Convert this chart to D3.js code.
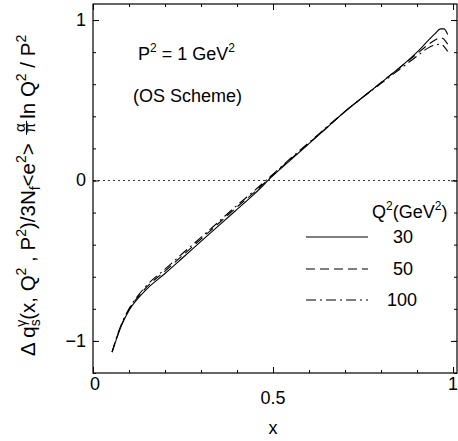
<!DOCTYPE html>
<html><head><meta charset="utf-8">
<script src="https://cdn.jsdelivr.net/npm/d3@7"></script>
<style>body{margin:0;background:#fff}svg{display:block}text{font-family:"Liberation Sans",Arial,sans-serif;fill:#000}</style>
</head><body><svg id="c" width="458" height="441"></svg>
<script>
const xs = [0.053,0.065,0.08,0.1,0.125,0.15,0.2,0.25,0.3,0.35,0.4,0.45,0.5,0.55,0.6,0.65,0.7,0.75,0.8,0.85,0.9,0.93,0.95,0.965,0.975,0.985];
const q30  = [-1.07,-0.99,-0.90,-0.81,-0.735,-0.675,-0.58,-0.48,-0.38,-0.28,-0.18,-0.08,0.03,0.13,0.23,0.33,0.43,0.52,0.61,0.70,0.80,0.87,0.915,0.945,0.945,0.91];
const q50  = [-1.07,-0.985,-0.895,-0.805,-0.725,-0.662,-0.565,-0.465,-0.365,-0.265,-0.165,-0.07,0.035,0.135,0.233,0.33,0.43,0.52,0.61,0.70,0.79,0.845,0.875,0.89,0.88,0.85];
const q100 = [-1.07,-0.98,-0.89,-0.80,-0.718,-0.652,-0.553,-0.452,-0.355,-0.255,-0.155,-0.06,0.04,0.14,0.237,0.335,0.43,0.52,0.605,0.69,0.775,0.825,0.845,0.85,0.835,0.805];
const seriesNames = ["30","50","100"];
const xTicks = [0,0.5,1];
const yTicks = [-1,0,1];

const svg = d3.select("#c");
const L=93,R=457,T=4,B=373;
const x = d3.scaleLinear().domain([0,1.011]).range([L,R]);
const y = d3.scaleLinear().domain([-1.2,1.1]).range([B,T]);
const styles = [null,"9,5","10,4,2,4"];
const all = [q30,q50,q100];

svg.append("rect").attr("x",L).attr("y",T).attr("width",R-L).attr("height",B-T).attr("fill","none").attr("stroke","#000").attr("stroke-width",1.2);
svg.append("line").attr("x1",L).attr("x2",R).attr("y1",y(0)).attr("y2",y(0)).attr("stroke","#333").attr("stroke-width",1).attr("stroke-dasharray","2,3");

const minorX = d3.range(0,1.0001,0.1), minorY = d3.range(-1.2,1.1001,0.2);
function ax(gen, tr, vals, size){
  const g = svg.append("g").attr("transform",tr).call(gen.tickValues(vals).tickSize(size).tickFormat(""));
  g.select(".domain").remove(); g.selectAll("line").attr("stroke","#000").attr("stroke-width",1);
}
ax(d3.axisBottom(x),`translate(0,${B})`,minorX,-3);
ax(d3.axisBottom(x),`translate(0,${B})`,xTicks,-6);
ax(d3.axisTop(x),`translate(0,${T})`,minorX,-3);
ax(d3.axisTop(x),`translate(0,${T})`,xTicks,-6);
ax(d3.axisLeft(y),`translate(${L},0)`,minorY,-3);
ax(d3.axisLeft(y),`translate(${L},0)`,yTicks,-6);
ax(d3.axisRight(y),`translate(${R},0)`,minorY,-3);
ax(d3.axisRight(y),`translate(${R},0)`,yTicks,-6);

const fs=18;
xTicks.forEach(v=>{
  svg.append("text").attr("x",x(v)+(v===0?2:0)).attr("y",v===0.5?404:390).attr("text-anchor","middle").attr("font-size",fs).text(String(v));
});
yTicks.forEach(v=>{
  svg.append("text").attr("x",86).attr("y",y(v)+6).attr("text-anchor","end").attr("font-size",fs).text(v<0?"\u2212"+Math.abs(v):String(v));
});
svg.append("text").attr("x",273).attr("y",434).attr("text-anchor","middle").attr("font-size",fs).text("x");

const line = d3.line().x(d=>x(d[0])).y(d=>y(d[1])).curve(d3.curveMonotoneX);
all.forEach((s,i)=>{
  svg.append("path").datum(xs.map((v,j)=>[v,s[j]])).attr("d",line).attr("fill","none").attr("stroke","#000").attr("stroke-width",1.1).attr("stroke-dasharray",styles[i]);
});

const t1 = svg.append("text").attr("x",138).attr("y",60).attr("font-size",fs);
t1.append("tspan").text("P");
t1.append("tspan").attr("font-size",12).attr("dy",-8).text("2");
t1.append("tspan").attr("dy",8).text(" = 1 GeV");
t1.append("tspan").attr("font-size",12).attr("dy",-8).text("2");
svg.append("text").attr("x",133).attr("y",102).attr("font-size",fs).text("(OS Scheme)");

const lt = svg.append("text").attr("x",372).attr("y",218).attr("font-size",fs);
lt.append("tspan").text("Q");
lt.append("tspan").attr("font-size",12).attr("dy",-8).text("2");
lt.append("tspan").attr("dy",8).text("(GeV");
lt.append("tspan").attr("font-size",12).attr("dy",-8).text("2");
lt.append("tspan").attr("dy",8).text(")");
const ly=[237,269,300];
seriesNames.forEach((n,i)=>{
  svg.append("line").attr("x1",306).attr("x2",368).attr("y1",ly[i]).attr("y2",ly[i]).attr("stroke","#000").attr("stroke-width",1.1).attr("stroke-dasharray",styles[i]);
  svg.append("text").attr("x",i===2?387:393).attr("y",ly[i]+6).attr("font-size",fs).text(n);
});

// y label (rotated)
const FS=20.5, SS=14;
const g = svg.append("g").attr("transform","translate(35,356) rotate(-90)");
const p1 = g.append("text").attr("x",0).attr("y",0).attr("font-size",FS);
const sup=(t,s,dy,dx)=>{const e=t.append("tspan").attr("font-size",SS).attr("dy",dy).text(s); if(dx) e.attr("dx",dx); return e;};
p1.append("tspan").text("\u0394 q");
sup(p1,"s",5);
sup(p1,"\u03b3",-14,-7.5);
p1.append("tspan").attr("dy",9).text("(x, Q");
sup(p1,"2",-9);
p1.append("tspan").attr("dy",9).text(" , P");
sup(p1,"2",-9);
p1.append("tspan").attr("dy",9).text(")/3N");
sup(p1,"f",5);
p1.append("tspan").attr("dy",-5).text("<e");
sup(p1,"2",-9);
p1.append("tspan").attr("dy",9).text(">");
const w1 = p1.node().getComputedTextLength();
const fx = w1+1;
g.append("text").attr("x",fx+7).attr("y",-10).attr("text-anchor","middle").attr("font-size",15).text("\u03b1");
g.append("text").attr("x",fx+7).attr("y",0).attr("text-anchor","middle").attr("font-size",15).text("\u03c0");
g.append("line").attr("x1",fx).attr("x2",fx+14).attr("y1",-8.5).attr("y2",-8.5).attr("stroke","#000").attr("stroke-width",1);
const p2 = g.append("text").attr("x",fx+16).attr("y",0).attr("font-size",FS);
p2.append("tspan").text("ln Q");
sup(p2,"2",-9);
p2.append("tspan").attr("dy",9).text(" / P");
sup(p2,"2",-9);
</script></body></html>
